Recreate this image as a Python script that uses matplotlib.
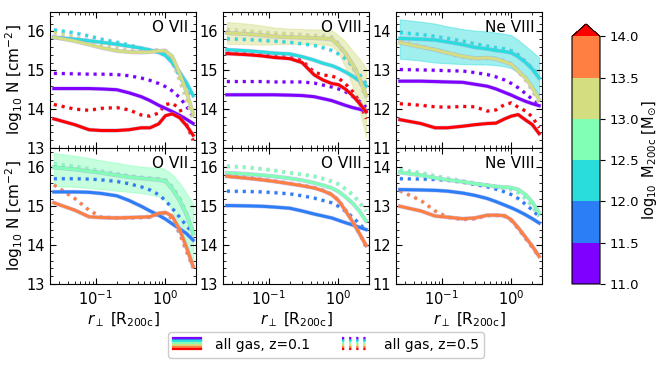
import numpy as np
import matplotlib
matplotlib.use('Agg')
import matplotlib.pyplot as plt
import matplotlib.colors as mcolors
import matplotlib.patheffects as pe
from matplotlib.lines import Line2D
from matplotlib.ticker import AutoMinorLocator, LogLocator, NullFormatter

# impact parameter grid [R200c]
r_perp = [0.025, 0.05, 0.08, 0.12, 0.2, 0.3, 0.45, 0.6, 0.8, 1.0, 1.25, 1.6, 2.0, 2.5]

mass_edges = [11.0, 11.5, 12.0, 12.5, 13.0, 13.5, 14.0]
ions = ['O VII', 'O VIII', 'Ne VIII']

# top row: mass bins 0 (11-11.5), 2 (12-12.5), 4 (13-13.5), 6 (>14)
# bottom row: mass bins 1 (11.5-12), 3 (12.5-13), 5 (13.5-14)
top_bins = [0, 2, 4, 6]
bottom_bins = [1, 3, 5]

o7_top_z01 = [
    [14.53, 14.53, 14.53, 14.52, 14.50, 14.42, 14.32, 14.22, 14.10, 14.02, 13.94, 13.84, 13.74, 13.63],
    [15.85, 15.80, 15.76, 15.72, 15.67, 15.62, 15.57, 15.52, 15.46, 15.38, 15.20, 14.95, 14.68, 14.35],
    [15.85, 15.75, 15.66, 15.58, 15.50, 15.47, 15.46, 15.47, 15.50, 15.50, 15.36, 14.92, 14.45, 13.88],
    [13.75, 13.60, 13.47, 13.45, 13.45, 13.47, 13.52, 13.52, 13.62, 13.83, 13.88, 13.78, 13.58, 13.33],
]
o7_top_z05 = [
    [14.92, 14.91, 14.90, 14.90, 14.89, 14.86, 14.80, 14.74, 14.66, 14.58, 14.47, 14.30, 14.08, 13.80],
    [16.04, 15.96, 15.88, 15.80, 15.72, 15.65, 15.57, 15.52, 15.48, 15.42, 15.20, 14.85, 14.55, 14.30],
    [15.97, 15.85, 15.75, 15.65, 15.57, 15.52, 15.50, 15.50, 15.53, 15.50, 15.25, 14.75, 14.25, 13.75],
    [14.12, 14.00, 13.97, 14.02, 14.04, 13.98, 13.85, 13.82, 13.90, 14.12, 14.15, 14.02, 13.62, 13.20],
]
o8_top_z01 = [
    [14.37, 14.37, 14.37, 14.37, 14.36, 14.35, 14.32, 14.27, 14.22, 14.16, 14.10, 14.04, 14.00, 13.95],
    [15.53, 15.50, 15.47, 15.44, 15.42, 15.35, 15.26, 15.18, 15.12, 15.05, 14.96, 14.85, 14.73, 14.60],
    [15.96, 15.93, 15.90, 15.87, 15.85, 15.84, 15.83, 15.82, 15.80, 15.65, 15.45, 15.15, 14.80, 14.35],
    [15.43, 15.40, 15.37, 15.33, 15.30, 15.20, 14.88, 14.75, 14.66, 14.63, 14.52, 14.35, 14.15, 13.93],
]
o8_top_z05 = [
    [14.71, 14.71, 14.71, 14.70, 14.70, 14.70, 14.67, 14.62, 14.57, 14.52, 14.45, 14.33, 14.20, 14.05],
    [15.81, 15.79, 15.77, 15.75, 15.72, 15.68, 15.64, 15.58, 15.51, 15.42, 15.30, 15.10, 14.90, 14.65],
    [16.04, 16.00, 15.97, 15.95, 15.93, 15.91, 15.89, 15.88, 15.85, 15.68, 15.42, 15.10, 14.75, 14.30],
    [15.45, 15.43, 15.40, 15.37, 15.33, 15.25, 14.95, 14.88, 14.85, 14.80, 14.66, 14.45, 14.20, 13.75],
]
ne8_top_z01 = [
    [12.72, 12.72, 12.71, 12.70, 12.69, 12.64, 12.59, 12.52, 12.43, 12.36, 12.28, 12.20, 12.14, 12.09],
    [13.82, 13.80, 13.78, 13.73, 13.66, 13.59, 13.55, 13.51, 13.48, 13.45, 13.35, 13.20, 13.03, 12.80],
    [13.71, 13.60, 13.53, 13.45, 13.36, 13.31, 13.32, 13.29, 13.22, 13.15, 12.98, 12.80, 12.55, 12.25],
    [11.73, 11.63, 11.52, 11.52, 11.56, 11.60, 11.63, 11.64, 11.75, 11.82, 11.86, 11.72, 11.60, 11.37],
]
ne8_top_z05 = [
    [13.02, 13.01, 13.00, 12.99, 12.98, 12.94, 12.89, 12.83, 12.75, 12.66, 12.55, 12.40, 12.25, 12.09],
    [13.97, 13.92, 13.87, 13.82, 13.75, 13.68, 13.62, 13.58, 13.55, 13.50, 13.40, 13.22, 13.05, 12.85],
    [13.75, 13.62, 13.53, 13.45, 13.34, 13.30, 13.31, 13.30, 13.24, 13.16, 12.98, 12.75, 12.48, 12.16],
    [12.14, 12.10, 12.06, 12.05, 12.07, 12.06, 11.95, 11.98, 12.12, 12.16, 12.05, 11.95, 11.80, 11.52],
]

o7_bot_z01 = [
    [15.37, 15.37, 15.36, 15.33, 15.27, 15.15, 15.00, 14.88, 14.77, 14.67, 14.55, 14.42, 14.30, 14.13],
    [16.00, 15.95, 15.90, 15.86, 15.80, 15.75, 15.72, 15.70, 15.68, 15.65, 15.45, 15.15, 14.80, 14.30],
    [15.09, 14.90, 14.73, 14.71, 14.70, 14.71, 14.72, 14.73, 14.82, 14.84, 14.75, 14.40, 13.95, 13.45],
]
o7_bot_z05 = [
    [15.71, 15.71, 15.70, 15.68, 15.64, 15.58, 15.50, 15.42, 15.30, 15.15, 14.95, 14.72, 14.50, 14.30],
    [16.09, 16.02, 15.96, 15.90, 15.83, 15.78, 15.74, 15.72, 15.70, 15.67, 15.50, 15.20, 14.80, 14.30],
    [15.55, 15.20, 14.90, 14.72, 14.70, 14.70, 14.71, 14.72, 14.80, 14.82, 14.68, 14.30, 13.85, 13.42],
]
o8_bot_z01 = [
    [15.02, 15.01, 15.00, 14.98, 14.95, 14.88, 14.80, 14.75, 14.70, 14.64, 14.58, 14.52, 14.46, 14.40],
    [15.86, 15.83, 15.80, 15.77, 15.72, 15.67, 15.60, 15.54, 15.47, 15.38, 15.25, 15.08, 14.88, 14.62],
    [15.77, 15.72, 15.68, 15.64, 15.58, 15.53, 15.47, 15.40, 15.30, 15.15, 14.90, 14.60, 14.30, 13.99],
]
o8_bot_z05 = [
    [15.39, 15.38, 15.37, 15.35, 15.32, 15.27, 15.21, 15.15, 15.09, 15.00, 14.88, 14.72, 14.55, 14.38],
    [16.03, 16.00, 15.96, 15.92, 15.86, 15.82, 15.77, 15.71, 15.64, 15.57, 15.45, 15.30, 15.10, 14.88],
    [15.80, 15.74, 15.69, 15.65, 15.59, 15.54, 15.48, 15.41, 15.31, 15.16, 14.92, 14.62, 14.30, 13.98],
]
ne8_bot_z01 = [
    [13.43, 13.42, 13.41, 13.39, 13.34, 13.28, 13.20, 13.12, 13.03, 12.96, 12.88, 12.78, 12.68, 12.57],
    [13.87, 13.80, 13.73, 13.68, 13.63, 13.58, 13.54, 13.51, 13.49, 13.48, 13.43, 13.30, 13.10, 12.83],
    [13.00, 12.88, 12.75, 12.72, 12.68, 12.70, 12.77, 12.77, 12.76, 12.65, 12.45, 12.20, 11.97, 11.71],
]
ne8_bot_z05 = [
    [13.71, 13.70, 13.69, 13.67, 13.62, 13.56, 13.50, 13.44, 13.37, 13.30, 13.20, 13.05, 12.90, 12.74],
    [13.94, 13.86, 13.78, 13.72, 13.65, 13.59, 13.54, 13.50, 13.46, 13.43, 13.35, 13.20, 13.00, 12.74],
    [13.40, 13.15, 12.88, 12.72, 12.66, 12.68, 12.76, 12.77, 12.74, 12.63, 12.43, 12.17, 11.94, 11.70],
]

# scatter bands (z=0.1) shown for one mass bin per panel
band_o8_top_lo = [15.68, 15.67, 15.66, 15.67, 15.68, 15.68, 15.67, 15.66, 15.64, 15.45, 15.10, 14.60, 14.00, 13.28]
band_o8_top_hi = [16.24, 16.20, 16.15, 16.10, 16.07, 16.06, 16.05, 16.05, 16.03, 15.90, 15.75, 15.50, 15.30, 15.05]
band_ne8_top_lo = [13.30, 13.25, 13.20, 13.18, 13.16, 13.15, 13.15, 13.13, 13.10, 13.05, 12.95, 12.80, 12.60, 12.35]
band_ne8_top_hi = [14.31, 14.25, 14.20, 14.13, 14.06, 14.02, 14.00, 13.97, 13.94, 13.90, 13.78, 13.62, 13.48, 13.32]
band_o7_bot_lo = [15.52, 15.50, 15.47, 15.44, 15.40, 15.37, 15.34, 15.30, 15.25, 15.15, 14.90, 14.50, 14.05, 13.55]
band_o7_bot_hi = [16.37, 16.30, 16.24, 16.18, 16.12, 16.06, 16.02, 16.00, 16.00, 15.95, 15.82, 15.60, 15.35, 15.05]

colors = plt.get_cmap('rainbow')(np.linspace(0, 1, 7))

fig = plt.figure(figsize=(6.64, 3.91), dpi=100)

W, H = 664., 391.
lefts = [50, 223, 396]
pw = 146
rows_y = [(12, 148), (148, 284)]

panels = [
    (0, 0, top_bins, o7_top_z01, o7_top_z05, None),
    (0, 1, top_bins, o8_top_z01, o8_top_z05, (4, band_o8_top_lo, band_o8_top_hi)),
    (0, 2, top_bins, ne8_top_z01, ne8_top_z05, (2, band_ne8_top_lo, band_ne8_top_hi)),
    (1, 0, bottom_bins, o7_bot_z01, o7_bot_z05, (3, band_o7_bot_lo, band_o7_bot_hi)),
    (1, 1, bottom_bins, o8_bot_z01, o8_bot_z05, None),
    (1, 2, bottom_bins, ne8_bot_z01, ne8_bot_z05, None),
]

outline = '#a8a2e6'

for row, col, bins, d01, d05, band in panels:
    y0, y1 = rows_y[row]
    ax = fig.add_axes([lefts[col] / W, 1 - y1 / H, pw / W, (y1 - y0) / H])
    if band is not None:
        ci, lo, hi = band
        ax.fill_between(r_perp, lo, hi, color=colors[ci], alpha=0.45, lw=0.8, zorder=1)
    for k, ci in enumerate(bins):
        ax.plot(r_perp, d05[k], color=colors[ci], lw=2.2, ls=(0, (1, 1.6)),
                path_effects=[pe.Stroke(linewidth=3.0, foreground=outline, alpha=0.5), pe.Normal()],
                zorder=3)
        ax.plot(r_perp, d01[k], color=colors[ci], lw=2.2, ls='-',
                path_effects=[pe.Stroke(linewidth=3.0, foreground=outline, alpha=0.6), pe.Normal()],
                zorder=4)
    ax.set_xscale('log')
    ax.set_xlim(0.022, 2.75)
    if col == 2:
        ax.set_ylim(11.0, 14.5)
    else:
        ax.set_ylim(13.0, 16.5)
    ax.yaxis.set_minor_locator(AutoMinorLocator(5))
    ax.xaxis.set_major_locator(LogLocator(base=10, numticks=10))
    ax.xaxis.set_minor_locator(LogLocator(base=10, subs=np.arange(2, 10), numticks=20))
    ax.xaxis.set_minor_formatter(NullFormatter())
    ax.tick_params(which='both', direction='in', top=True, right=True, labelsize=10.5)
    ax.tick_params(which='major', length=4.5)
    ax.tick_params(which='minor', length=2.5)
    ax.text(0.95, 0.94, ions[col], transform=ax.transAxes, ha='right', va='top', fontsize=11)
    if row == 0:
        ax.tick_params(labelbottom=False)
    else:
        ax.set_xlabel(r'$r_\perp$ [R$_{\mathrm{200c}}$]', fontsize=11, labelpad=2)
    if col == 0:
        ax.set_ylabel(r'$\log_{10}\,$N [cm$^{-2}$]', fontsize=11, labelpad=1)

# colorbar
cmap = mcolors.ListedColormap(colors[:6])
cmap.set_over(colors[6])
norm = mcolors.BoundaryNorm(mass_edges, cmap.N)
cax = fig.add_axes([572 / W, 1 - 284 / H, 28 / W, 260 / H])
cb = fig.colorbar(plt.cm.ScalarMappable(norm=norm, cmap=cmap), cax=cax, extend='max',
                  ticks=mass_edges, format='%.1f', extendfrac=0.05)
cb.ax.tick_params(labelsize=9.5)
cb.set_label(r'$\log_{10}$ M$_{\mathrm{200c}}$ [M$_{\odot}$]', fontsize=10.5, labelpad=1)


class HandlerStack:
    def __init__(self, dotted):
        self.dotted = dotted

    def legend_artist(self, legend, orig_handle, fontsize, handlebox):
        x0, y0 = handlebox.xdescent, handlebox.ydescent
        w, h = handlebox.width, handlebox.height
        n = len(colors)
        last = None
        for i, c in enumerate(colors):
            yy = y0 + h - i * h / (n - 1)
            if self.dotted:
                ln = Line2D([x0, x0 + w], [yy, yy], color=c, lw=1.6, ls=(0, (1, 2.2)))
            else:
                ln = Line2D([x0, x0 + w], [yy, yy], color=c, lw=1.6)
            ln.set_transform(handlebox.get_transform())
            handlebox.add_artist(ln)
            last = ln
        return last


h1 = Line2D([], [], color='k')
h2 = Line2D([], [], color='k', ls=':')
fig.legend([h1, h2], ['all gas, z=0.1', 'all gas, z=0.5'],
           handler_map={h1: HandlerStack(False), h2: HandlerStack(True)},
           loc='center', bbox_to_anchor=(326 / W, 1 - 345 / H), ncol=2,
           fontsize=10, handlelength=2.0, handleheight=0.8, columnspacing=2.3,
           handletextpad=1.0, framealpha=1.0)

fig.savefig('out.png', dpi=100)
